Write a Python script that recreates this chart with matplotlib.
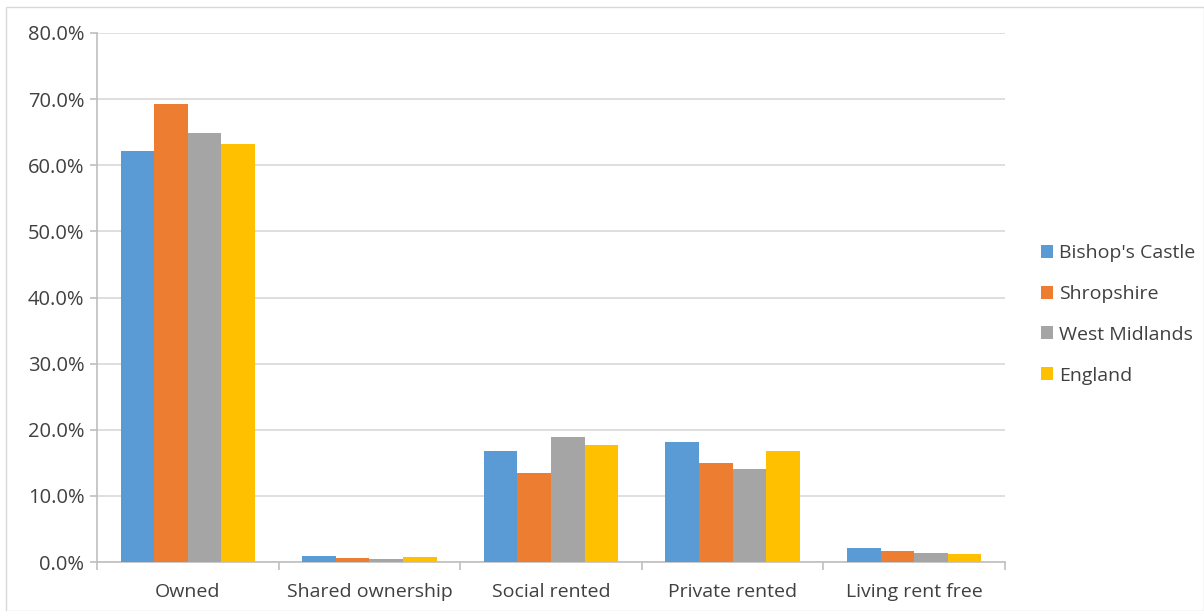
import numpy as np
import matplotlib.pyplot as plt
from matplotlib.ticker import FuncFormatter

categories = ['Owned', 'Shared ownership', 'Social rented', 'Private rented', 'Living rent free']
series = ["Bishop's Castle", 'Shropshire', 'West Midlands', 'England']
bishops_castle = [62.2, 0.9, 16.8, 18.2, 2.1]
shropshire = [69.3, 0.55, 13.5, 15.0, 1.7]
west_midlands = [64.9, 0.5, 18.9, 14.1, 1.4]
england = [63.2, 0.7, 17.7, 16.8, 1.2]
colors = ['#5B9BD5', '#ED7D31', '#A5A5A5', '#FFC000']

plt.rcParams['font.family'] = ['Open Sans', 'DejaVu Sans']

fig = plt.figure(figsize=(12.04, 6.11), dpi=100)
ax = fig.add_axes([97 / 1204, 1 - 562 / 611, (1005 - 97) / 1204, (562 - 33) / 611])

x = np.arange(len(categories))
w = 0.74 / 4
for i, vals in enumerate([bishops_castle, shropshire, west_midlands, england]):
    ax.bar(x + (i - 1.5) * w, vals, width=w, color=colors[i], label=series[i], zorder=3)

ax.set_ylim(0, 80)
ax.set_xlim(-0.5, len(categories) - 0.5)
ax.set_yticks(np.arange(0, 81, 10))
ax.yaxis.set_major_formatter(FuncFormatter(lambda v, p: f'{v:.1f}%'))
ax.yaxis.grid(True, color='#D9D9D9', linewidth=1.2, zorder=0)

ax.set_xticks(x)
ax.set_xticklabels(categories)
ax.set_xticks(np.arange(-0.5, len(categories)), minor=True)
ax.tick_params(axis='x', which='major', length=0, pad=15, labelsize=14, labelcolor='#404040')
ax.tick_params(axis='x', which='minor', length=6, color='#BFBFBF', width=1.2)
ax.tick_params(axis='y', length=5, color='#BFBFBF', width=1.2, labelsize=14.5, labelcolor='#404040', pad=4)

for s in ['top', 'right']:
    ax.spines[s].set_visible(False)
for s in ['left', 'bottom']:
    ax.spines[s].set_color('#BFBFBF')
    ax.spines[s].set_linewidth(1.2)

leg = ax.legend(loc='center left', bbox_to_anchor=(1.02, 0.468), frameon=False,
                fontsize=14, handlelength=0.65, handleheight=0.65, handletextpad=0.3,
                labelspacing=1.17, labelcolor='#404040')

fig.patches.append(plt.Rectangle((6 / 1204, 0), 1 - 6 / 1204, 1 - 7 / 611, transform=fig.transFigure,
                                 fill=False, edgecolor='#D9D9D9', linewidth=1))

fig.savefig('out.png', dpi=100)
